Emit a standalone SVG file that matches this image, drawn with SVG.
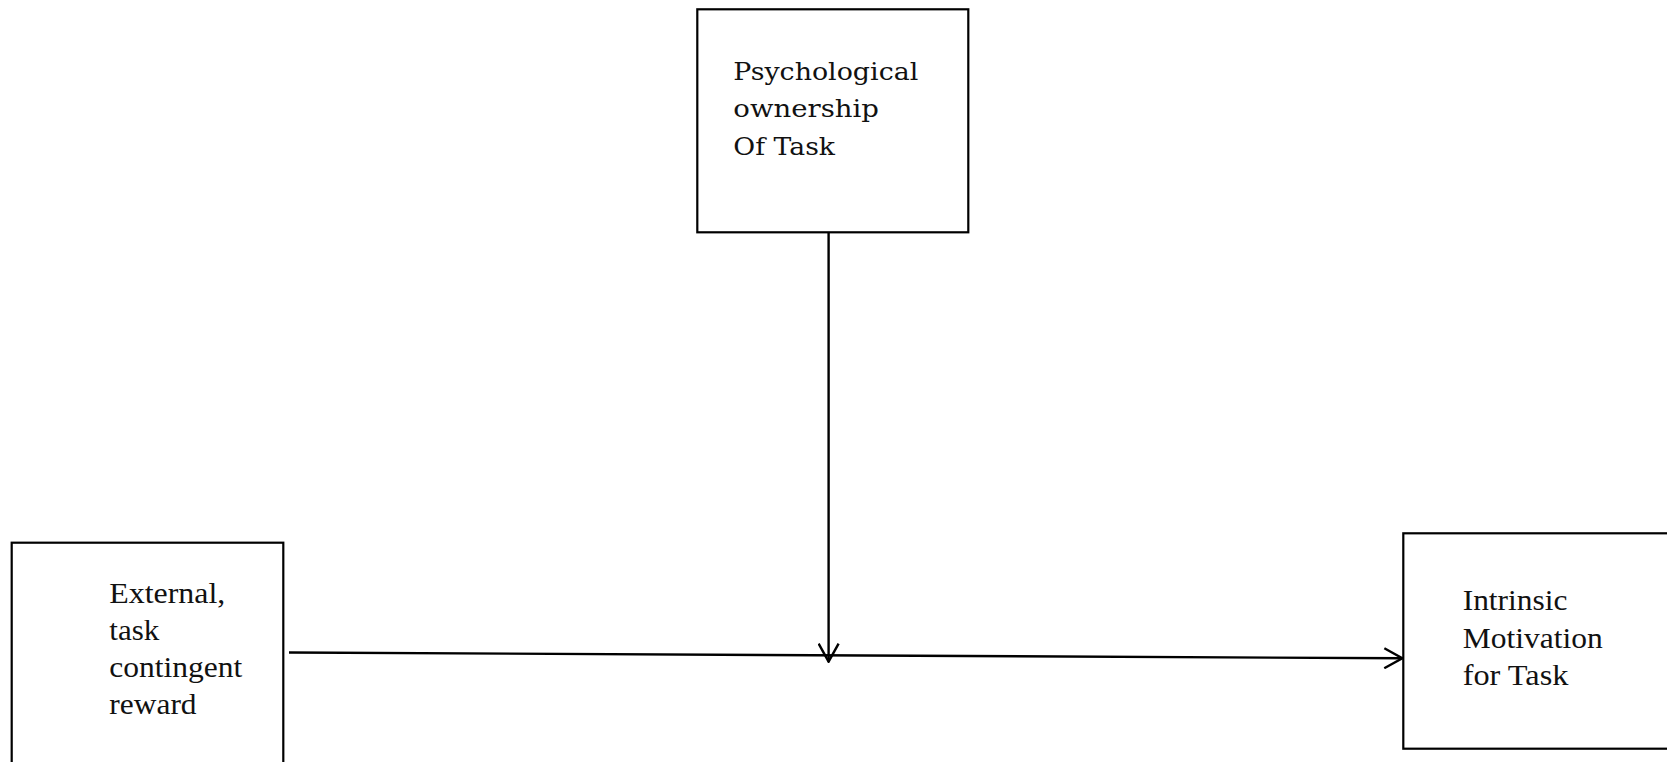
<svg xmlns="http://www.w3.org/2000/svg" width="1667" height="762" viewBox="0 0 1667 762">
  <defs>
    <style>
      .box { fill: #ffffff; stroke: #000000; stroke-width: 2.2; }
      .label { font-family: "Liberation Serif", "Times New Roman", serif; font-size: 29px; fill: #111111; }
      .label-alt { font-family: "DejaVu Serif", "Liberation Serif", serif; font-size: 25px; fill: #111111; }
      .edge { fill: none; stroke: #000000; stroke-width: 2.4; }
    </style>
    <marker id="open-arrow" viewBox="0 0 20 22" refX="19" refY="11" markerWidth="20" markerHeight="22" markerUnits="userSpaceOnUse" orient="auto">
      <path d="M1,1 L19,11 L1,21" fill="none" stroke="#000000" stroke-width="2.4"/>
    </marker>
  </defs>

  <rect width="1667" height="762" fill="#ffffff"/>

  <g id="node-ownership">
    <rect class="box" x="697.3" y="9.3" width="271" height="223"/>
    <text class="label-alt">
      <tspan x="733.3" y="80" textLength="185" lengthAdjust="spacingAndGlyphs">Psychological</tspan>
      <tspan x="733.3" y="117.3" textLength="145.7" lengthAdjust="spacingAndGlyphs">ownership</tspan>
      <tspan x="733.3" y="155" textLength="101.7" lengthAdjust="spacingAndGlyphs">Of Task</tspan>
    </text>
  </g>

  <g id="node-reward">
    <rect class="box" x="11.7" y="542.7" width="271.6" height="230"/>
    <text class="label">
      <tspan x="109.3" y="602.7" textLength="116" lengthAdjust="spacingAndGlyphs">External,</tspan>
      <tspan x="109.3" y="640" textLength="50" lengthAdjust="spacingAndGlyphs">task</tspan>
      <tspan x="109.3" y="676.7" textLength="133" lengthAdjust="spacingAndGlyphs">contingent</tspan>
      <tspan x="109.3" y="714" textLength="87.3" lengthAdjust="spacingAndGlyphs">reward</tspan>
    </text>
  </g>

  <g id="node-motivation">
    <rect class="box" x="1403.3" y="533.3" width="280" height="215.4"/>
    <text class="label">
      <tspan x="1462.7" y="610" textLength="104.7" lengthAdjust="spacingAndGlyphs">Intrinsic</tspan>
      <tspan x="1462.7" y="648.3" textLength="140" lengthAdjust="spacingAndGlyphs">Motivation</tspan>
      <tspan x="1462.7" y="685" textLength="105.7" lengthAdjust="spacingAndGlyphs">for Task</tspan>
    </text>
  </g>

  <g id="connectors">
    <line class="edge" x1="289" y1="652.5" x2="1402.3" y2="658.3" marker-end="url(#open-arrow)"/>
    <line class="edge" x1="828.6" y1="232.3" x2="828.6" y2="661.7" marker-end="url(#open-arrow)"/>
  </g>
</svg>
